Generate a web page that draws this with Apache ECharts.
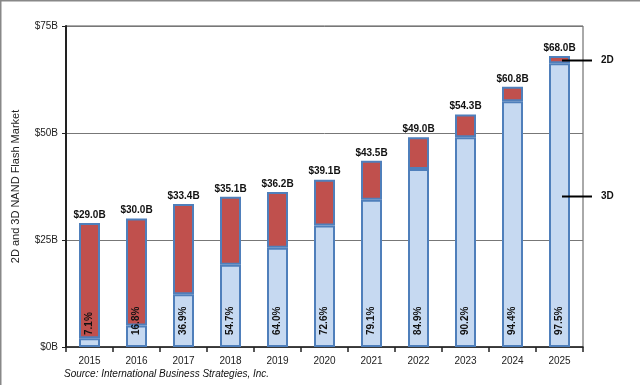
<!DOCTYPE html>
<html>
<head>
<meta charset="utf-8">
<script src="https://cdn.jsdelivr.net/npm/echarts@6/dist/echarts.min.js"></script>
<style>
html,body{margin:0;padding:0;background:#fff;}
#c{width:640px;height:385px;}
</style>
</head>
<body>
<div id="c"></div>
<script>
const years = ['2015','2016','2017','2018','2019','2020','2021','2022','2023','2024','2025'];
const totals = [29.0, 30.0, 33.4, 35.1, 36.2, 39.1, 43.5, 49.0, 54.3, 60.8, 68.0];
const pct3D = [7.1, 16.8, 36.9, 54.7, 64.0, 72.6, 79.1, 84.9, 90.2, 94.4, 97.5];
const value3D = [2.06, 5.04, 12.32, 19.20, 23.17, 28.39, 34.41, 41.60, 48.98, 57.40, 66.30];
const value2D = [26.94, 24.96, 21.08, 15.90, 13.03, 10.71, 9.09, 7.40, 5.32, 3.40, 1.70];
const yTicks = [0, 25, 50, 75];

const chart = echarts.init(document.getElementById('c'), null, {renderer: 'canvas'});
const FONT = '"Liberation Sans", Arial, sans-serif';
chart.setOption({
  animation: false,
  backgroundColor: '#fff',
  textStyle: {fontFamily: FONT},
  grid: {left: 66, right: 57, top: 26, bottom: 38, show: true, borderColor: '#555', borderWidth: 1},
  xAxis: {
    type: 'category',
    data: years,
    axisLine: {lineStyle: {color: '#222', width: 1.5}},
    axisTick: {show: true, length: 5, lineStyle: {color: '#222', width: 1.5}},
    axisLabel: {color: '#222', fontSize: 10, margin: 9, fontFamily: FONT}
  },
  yAxis: {
    type: 'value',
    min: 0, max: 75, interval: 25,
    name: '2D and 3D NAND Flash Market',
    nameLocation: 'middle',
    nameRotate: 90,
    nameGap: 45,
    nameTextStyle: {color: '#222', fontSize: 11, fontFamily: FONT},
    axisLine: {show: true, lineStyle: {color: '#222', width: 2}},
    axisTick: {show: true, length: 4, lineStyle: {color: '#222', width: 1}},
    axisLabel: {color: '#222', fontSize: 10, margin: 8, fontFamily: FONT,
      formatter: v => yTicks.indexOf(v) >= 0 ? '$' + v + 'B' : ''},
    splitLine: {show: true, lineStyle: {color: '#777', width: 1}}
  },
  series: [
    {
      name: '3D', type: 'bar', stack: 't', barWidth: 21,
      data: value3D,
      itemStyle: {color: '#c6d9f1', borderColor: '#4f7fbb', borderWidth: 2},
      label: {
        show: true, position: 'insideBottom', distance: 12, rotate: 90,
        align: 'left', verticalAlign: 'middle',
        color: '#111', fontWeight: 'bold', fontSize: 10, fontFamily: FONT,
        formatter: p => pct3D[p.dataIndex].toFixed(1) + '%'
      },
      z: 2
    },
    {
      name: '2D', type: 'bar', stack: 't', barWidth: 21,
      data: value2D,
      itemStyle: {color: '#c0504d', borderColor: '#4f7fbb', borderWidth: 2},
      label: {
        show: true, position: 'top', distance: 3,
        color: '#111', fontWeight: 'bold', fontSize: 10, fontFamily: FONT,
        formatter: p => '$' + totals[p.dataIndex].toFixed(1) + 'B'
      },
      z: 1
    }
  ],
  graphic: [
    {type: 'line', shape: {x1: 0.5, y1: 0, x2: 0.5, y2: 385}, style: {stroke: '#888', lineWidth: 2}},
    {type: 'line', shape: {x1: 0, y1: 0.5, x2: 640, y2: 0.5}, style: {stroke: '#888', lineWidth: 2}},
    {type: 'line', shape: {x1: 562, y1: 60.5, x2: 592, y2: 60.5}, style: {stroke: '#000', lineWidth: 2}, z: 10},
    {type: 'text', left: 601, top: 55, style: {text: '2D', fill: '#111', font: 'bold 10px ' + FONT}},
    {type: 'line', shape: {x1: 562, y1: 196.5, x2: 592, y2: 196.5}, style: {stroke: '#000', lineWidth: 2}, z: 10},
    {type: 'text', left: 601, top: 191, style: {text: '3D', fill: '#111', font: 'bold 10px ' + FONT}},
    {type: 'text', left: 64, top: 369, style: {text: 'Source: International Business Strategies, Inc.', fill: '#111', font: 'italic 10px ' + FONT}}
  ]
});
</script>
</body>
</html>
